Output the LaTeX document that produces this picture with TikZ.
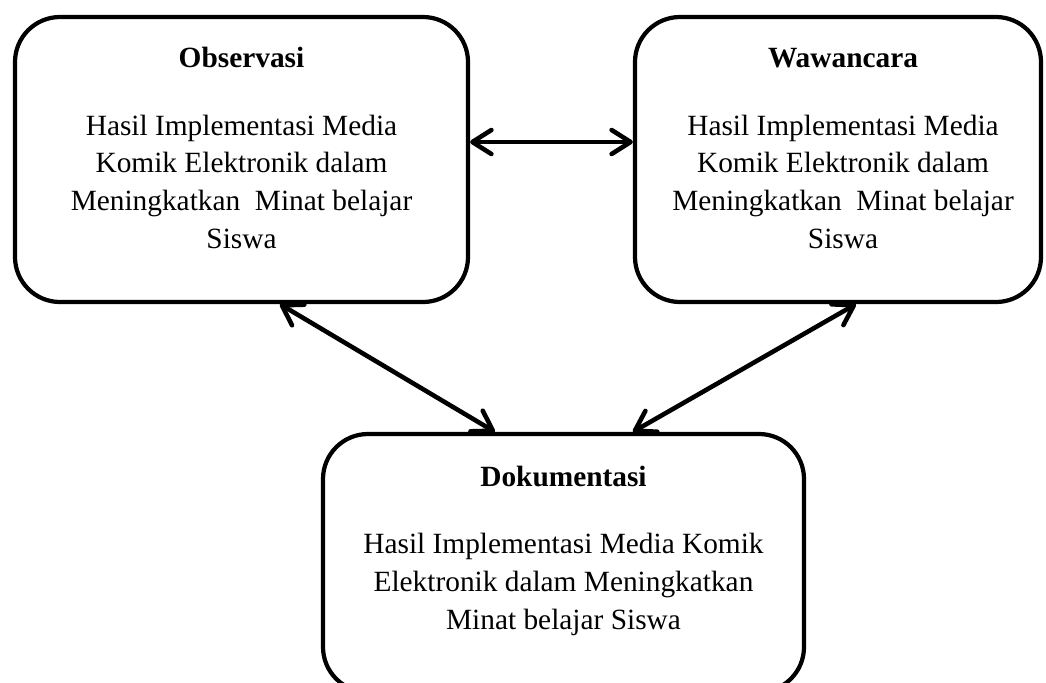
\documentclass[tikz,border=0pt]{standalone}
\usepackage{fontspec}
\setmainfont{Liberation Serif}
\usetikzlibrary{arrows.meta, positioning, calc}
\newcommand{\diagfont}{\fontsize{16.7pt}{21.6pt}\selectfont}
\tikzset{
	barb/.tip={Straight Barb[length=0.38cm, width=0.48cm, round]},
	box/.style={draw, line width=2.4pt, rounded corners=0.9cm},
	title/.style={font=\diagfont\bfseries, anchor=base, inner sep=0pt},
	% base of a multi-line node is its last line
	body/.style={font=\diagfont, align=center, anchor=base, inner sep=0pt},
	link/.style={line width=2.6pt, line cap=round, barb-barb}
}
\begin{document}
\begin{tikzpicture}
		\useasboundingbox (0,0) rectangle (20.92,-13.64);
		
		% Boxes
		\node[box, minimum width=9.06cm, minimum height=5.7cm] (obs) at (4.83,-3.19) {};
		\node[box, minimum width=8.12cm, minimum height=5.7cm] (waw) at (16.76,-3.19) {};
		\node[box, minimum width=9.62cm, minimum height=5.16cm] (dok) at (11.27,-11.26) {};
		
		% Texts
		\node[title] (obstitle) at ([yshift=-1.06cm]obs.north) {Observasi};
		\node[body] (obsbody) at ([yshift=-3.62cm]obstitle.base) {Hasil Implementasi Media\\ Komik Elektronik dalam\\ Meningkatkan\ \ Minat belajar\\ Siswa};
		\node[title] (wawtitle) at ([xshift=0.1cm, yshift=-1.06cm]waw.north) {Wawancara};
		\node[body] (wawbody) at ([yshift=-3.62cm]wawtitle.base) {Hasil Implementasi Media\\ Komik Elektronik dalam\\ Meningkatkan\ \ Minat belajar\\ Siswa};
		\node[title] (doktitle) at ([yshift=-1.1cm]dok.north) {Dokumentasi};
		\node[body] (dokbody) at ([yshift=-2.86cm]doktitle.base) {Hasil Implementasi Media Komik\\ Elektronik dalam Meningkatkan\\ Minat belajar Siswa};
		
		% Arrows
		\draw[link] ([yshift=0.35cm]obs.east) -- ([yshift=0.35cm]waw.west);
		\draw[link] ([xshift=5.34cm]obs.south west) -- ([xshift=3.48cm]dok.north west);
		\draw[link] ([xshift=4.46cm]waw.south west) -- ([xshift=6.24cm]dok.north west);
	\end{tikzpicture}
\end{document}
